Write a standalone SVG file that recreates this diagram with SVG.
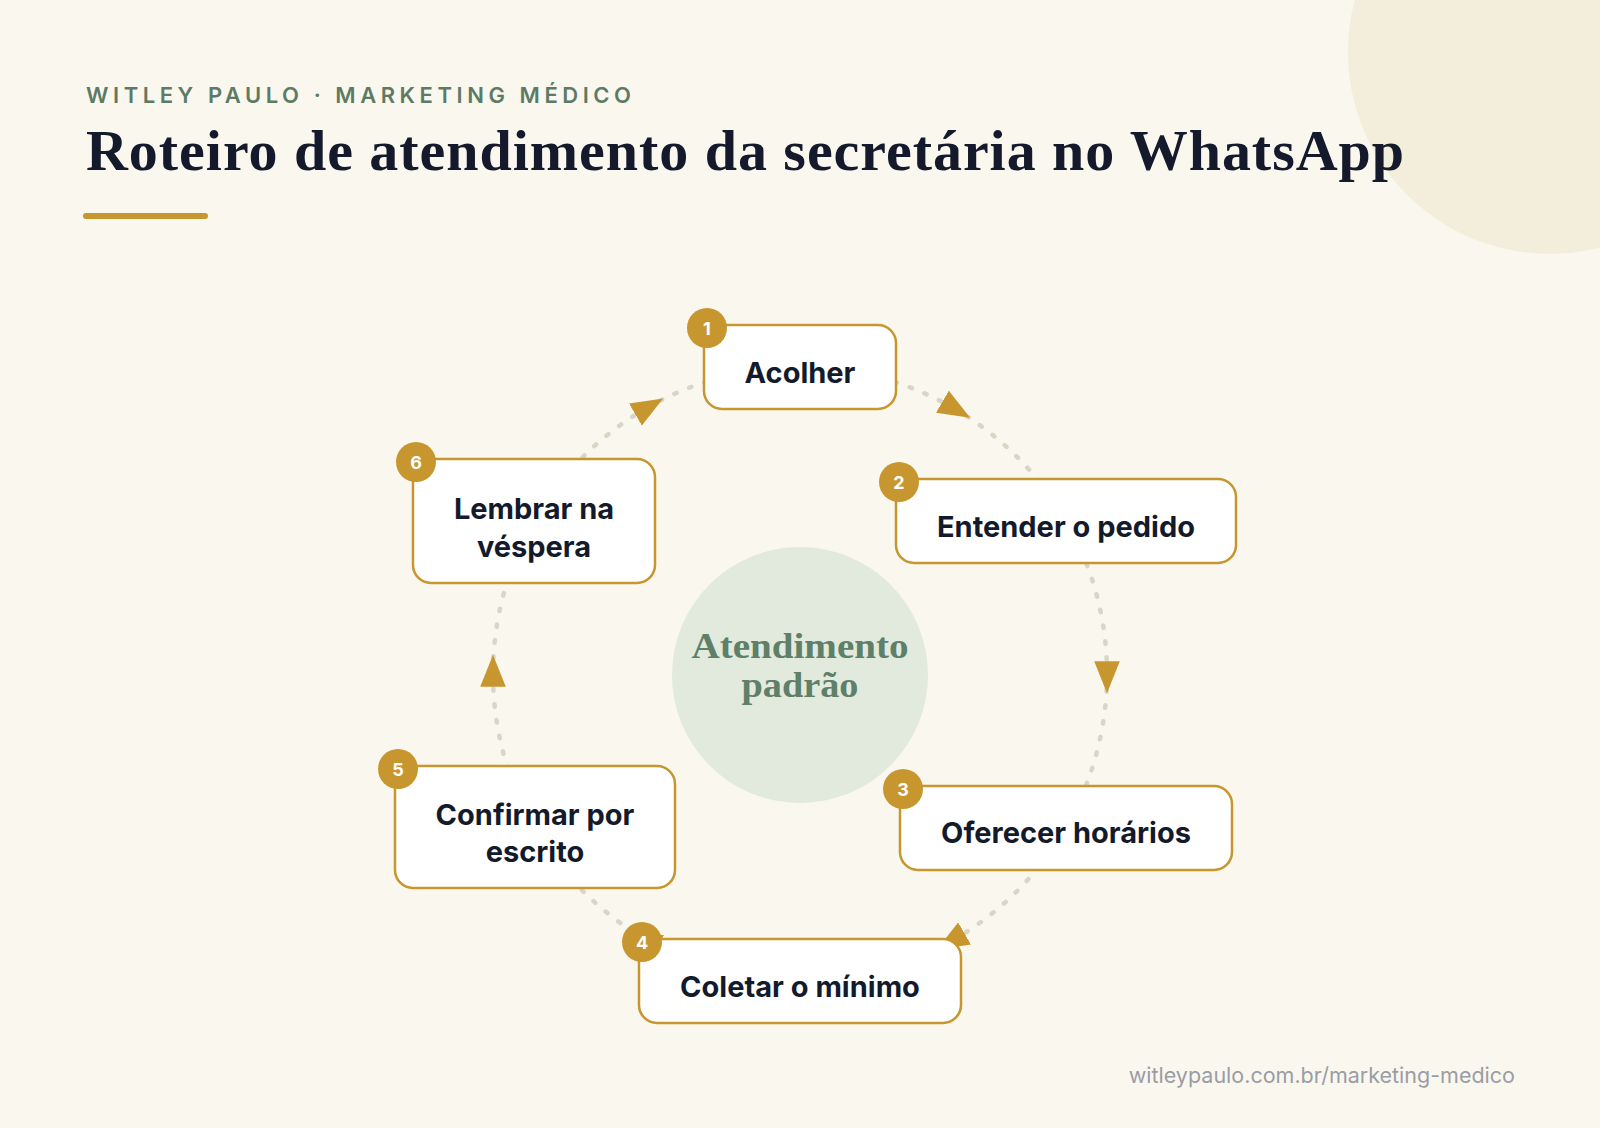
<svg xmlns="http://www.w3.org/2000/svg" width="1600" height="1128" viewBox="0 0 1600 1128">
  <defs>
    <style>
      .bg { fill: #faf7ef; }
      .blob { fill: #f3eddc; }
      .kicker { font-family: "Inter", "Liberation Sans", sans-serif; font-weight: 600; font-size: 22px; fill: #5d7b64; }
      .title { font-family: "Liberation Serif", serif; font-weight: 700; font-size: 58px; fill: #141a2c; }
      .ring { fill: none; stroke: #d9d5c7; stroke-width: 4.5; stroke-dasharray: 2.5 13.5; stroke-linecap: round; marker-mid: url(#arrow); }
      .box { fill: #ffffff; stroke: #c8962f; stroke-width: 2.5; }
      .badge { fill: #c8962f; }
      .num { font-family: "Inter", "Liberation Sans", sans-serif; font-weight: 700; font-size: 18px; fill: #ffffff; text-anchor: middle; }
      .label { font-family: "Inter", "Liberation Sans", sans-serif; font-weight: 700; font-size: 29px; fill: #131a2c; text-anchor: middle; }
      .hub { fill: #e2e9dd; }
      .hubtext { font-family: "Liberation Serif", serif; font-weight: 700; font-size: 36px; fill: #5e7f68; text-anchor: middle; }
      .footer { font-family: "Inter", "Liberation Sans", sans-serif; font-size: 21.5px; fill: #9b9da4; text-anchor: end; }
    </style>
    <marker id="arrow" markerUnits="userSpaceOnUse" markerWidth="32" markerHeight="26" viewBox="0 0 30 24" refX="12" refY="12" orient="auto">
      <path d="M0,0 L30,12 L0,24 Z" fill="#c8962f"/>
    </marker>
  </defs>

  <rect class="bg" x="0" y="0" width="1600" height="1128"/>
  <circle class="blob" cx="1550" cy="52" r="202"/>

  <g id="header">
    <text class="kicker" x="86" y="103" textLength="545" lengthAdjust="spacing">WITLEY PAULO · MARKETING MÉDICO</text>
    <text class="title" x="86" y="170" textLength="1318" lengthAdjust="spacing">Roteiro de atendimento da secretária no WhatsApp</text>
    <rect x="83" y="213" width="125" height="6" rx="3" fill="#c8962f"/>
  </g>

  <g id="connectors">
    <path class="ring" d="M800,367 A307,307 0 0 1 953.5,408.13 A307,307 0 0 1 1065.87,520.5"/>
    <path class="ring" d="M1065.87,520.5 A307,307 0 0 1 1107,674 A307,307 0 0 1 1065.87,827.5"/>
    <path class="ring" d="M1065.87,827.5 A307,307 0 0 1 953.5,939.87 A307,307 0 0 1 800,981"/>
    <path class="ring" d="M800,981 A307,307 0 0 1 646.5,939.87 A307,307 0 0 1 534.13,827.5"/>
    <path class="ring" d="M534.13,827.5 A307,307 0 0 1 493,674 A307,307 0 0 1 534.13,520.5"/>
    <path class="ring" d="M534.13,520.5 A307,307 0 0 1 646.5,408.13 A307,307 0 0 1 800,367"/>
  </g>

  <g id="hub">
    <circle class="hub" cx="800" cy="675" r="128"/>
    <text class="hubtext" x="800" y="658" textLength="217" lengthAdjust="spacingAndGlyphs">Atendimento</text>
    <text class="hubtext" x="800" y="697" textLength="117" lengthAdjust="spacingAndGlyphs">padrão</text>
  </g>

  <g id="node1">
    <rect class="box" x="704" y="325" width="192" height="84" rx="18"/>
    <circle class="badge" cx="707" cy="328" r="20"/>
    <text class="num" x="707" y="334.5">1</text>
    <text class="label" x="800" y="383">Acolher</text>
  </g>

  <g id="node2">
    <rect class="box" x="896" y="479" width="340" height="84" rx="18"/>
    <circle class="badge" cx="899" cy="482" r="20"/>
    <text class="num" x="899" y="488.5">2</text>
    <text class="label" x="1066" y="537">Entender o pedido</text>
  </g>

  <g id="node3">
    <rect class="box" x="900" y="786" width="332" height="84" rx="18"/>
    <circle class="badge" cx="903" cy="789" r="20"/>
    <text class="num" x="903" y="795.5">3</text>
    <text class="label" x="1066" y="843">Oferecer horários</text>
  </g>

  <g id="node4">
    <rect class="box" x="639" y="939" width="322" height="84" rx="18"/>
    <circle class="badge" cx="642" cy="942" r="20"/>
    <text class="num" x="642" y="948.5">4</text>
    <text class="label" x="800" y="997">Coletar o mínimo</text>
  </g>

  <g id="node5">
    <rect class="box" x="395" y="766" width="280" height="122" rx="18"/>
    <circle class="badge" cx="398" cy="769" r="20"/>
    <text class="num" x="398" y="775.5">5</text>
    <text class="label" x="535" y="825">Confirmar por</text>
    <text class="label" x="535" y="862">escrito</text>
  </g>

  <g id="node6">
    <rect class="box" x="413" y="459" width="242" height="124" rx="18"/>
    <circle class="badge" cx="416" cy="462" r="20"/>
    <text class="num" x="416" y="468.5">6</text>
    <text class="label" x="534" y="519">Lembrar na</text>
    <text class="label" x="534" y="557">véspera</text>
  </g>

  <text class="footer" x="1515" y="1083">witleypaulo.com.br/marketing-medico</text>
</svg>
